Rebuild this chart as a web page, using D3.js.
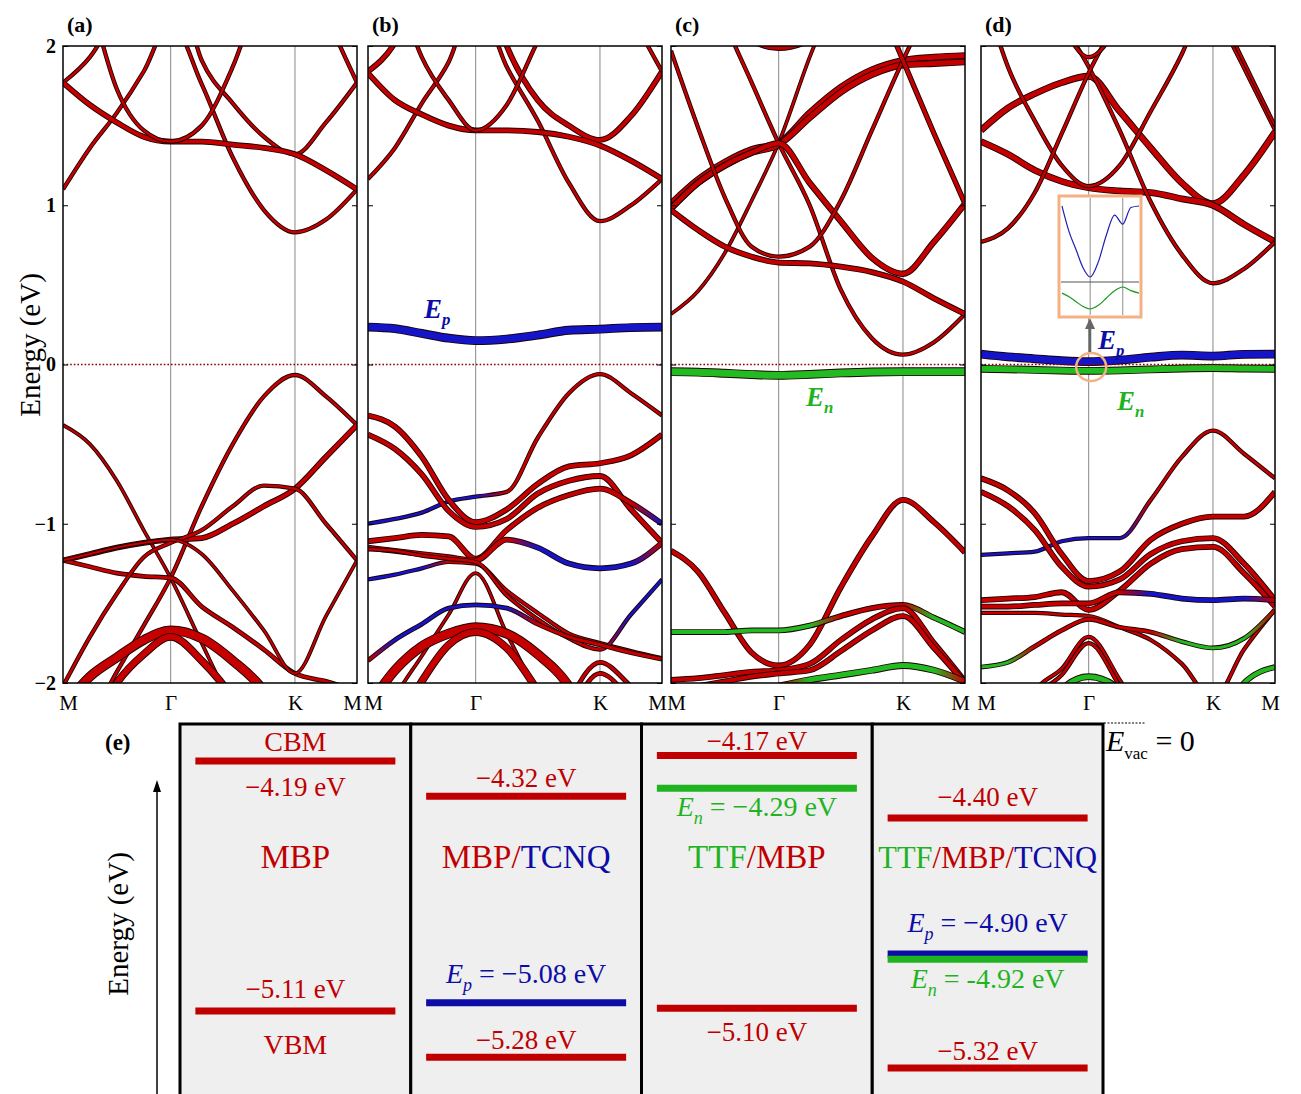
<!DOCTYPE html>
<html lang="en">
<head>
<meta charset="UTF-8">
<title>Band structures and level alignment</title>
<style>
    body {
        margin: 0;
        background: #fff;
    }
    svg text {
        font-family: "Liberation Serif", "Times New Roman", serif;
    }
</style>
</head>
<body>
<script src="https://cdn.jsdelivr.net/npm/d3@7/dist/d3.min.js"></script>
<script>

    // k path M - Γ - K - M, as a fraction of the path length
    var kGrid = [0, 0.0915, 0.183, 0.2745, 0.366, 0.4718, 0.5775, 0.6833, 0.789, 0.8945, 1];
    var kPoints = [0, 0.366, 0.789, 1];
    var kLabels = ['M', 'Γ', 'K', 'M'];
    var energyTicks = [-2, -1, 0, 1, 2];

    // a band: energies (eV) on kGrid, orbital character per k point
    // (m = MBP, t = TCNQ, f = TTF) and projected weight
    function band(e, ch, w) {
        return {e: e, ch: ch, w: w};
    }

    // molecular levels near the gap
    var epB = [0.235, 0.225, 0.195, 0.165, 0.15, 0.16, 0.185, 0.215, 0.222, 0.232, 0.235];
    var enC = [-0.045, -0.048, -0.055, -0.063, -0.068, -0.062, -0.053, -0.047, -0.045, -0.045, -0.045];
    var epD = [0.065, 0.048, 0.036, 0.024, 0.018, 0.028, 0.046, 0.059, 0.053, 0.064, 0.065];
    var enD = [-0.027, -0.030, -0.034, -0.038, -0.040, -0.037, -0.031, -0.025, -0.022, -0.025, -0.027];

    // (a) MBP
    var bandsA = [
        band([1.10, 1.36, 1.58, 1.84, 2.15, 1.76, 1.30, 0.97, 0.83, 0.91, 1.10], 'm', 2.5),
        band([1.77, 1.93, 2.2, 2.45, 2.5, 1.91, 1.64, 1.43, 1.32, 1.52, 1.77], 'm', 2.5),
        band([1.77, 1.63, 1.52, 1.43, 1.40, 1.40, 1.38, 1.36, 1.32, 1.22, 1.10], 'm', 4),
        band([2.9, 2.3, 1.73, 1.47, 1.40, 1.50, 1.87, 2.4, 2.7, 2.2, 1.77], 'm', 2.5),
        band([-2.3, -2.22, -1.93, -1.64, -1.34, -0.89, -0.50, -0.20, -0.066, -0.20, -0.38], 'm', 2.5),
        band([-0.38, -0.50, -0.73, -1.04, -1.34, -1.75, -2.15, -2.5, -2.6, -2.6, -2.6], 'm', 2),
        band([-1.23, -1.19, -1.15, -1.12, -1.10, -1.09, -1.00, -0.89, -0.78, -0.58, -0.38], 'm', 4),
        band([-1.23, -1.27, -1.31, -1.33, -1.34, -1.52, -1.65, -1.79, -1.94, -1.99, -2.05], 'm', 3),
        band([-2.02, -1.71, -1.44, -1.21, -1.12, -1.04, -0.89, -0.76, -0.78, -1.0, -1.23], 'm', 2.5),
        band([-1.23, -1.19, -1.15, -1.12, -1.10, -1.19, -1.42, -1.67, -1.94, -1.58, -1.23], 'm', 2),
        band([-2.15, -1.96, -1.84, -1.73, -1.67, -1.72, -1.86, -2.05, -2.4, -2.6, -2.6], 'm', 8),
        band([-2.6, -2.3, -2.0, -1.82, -1.71, -1.86, -2.1, -2.5, -2.6, -2.6, -2.6], 'm', 6)
    ];

    // (b) MBP/TCNQ
    var bandsB = [
        band([1.165, 1.36, 1.64, 1.90, 2.3, 1.87, 1.53, 1.14, 0.90, 1.0, 1.165], 'm', 2.5),
        band([1.84, 2.02, 2.4, 2.6, 2.6, 2.0, 1.66, 1.50, 1.41, 1.56, 1.84], 'm', 4),
        band([1.83, 1.66, 1.57, 1.50, 1.47, 1.47, 1.46, 1.43, 1.375, 1.28, 1.165], 'm', 4),
        band([2.9, 2.4, 1.93, 1.66, 1.47, 1.63, 2.03, 2.4, 2.6, 2.2, 1.84], 'm', 2.5),
        band(epB, 't', 7),
        band([-1.0, -0.97, -0.93, -0.86, -0.83, -0.80, -0.46, -0.18, -0.06, -0.18, -0.32], 'tttttmmmmmm', 2.5),
        band([-0.32, -0.39, -0.58, -0.85, -0.99, -0.91, -0.75, -0.64, -0.62, -0.57, -0.44], 'm', 4),
        band([-0.44, -0.53, -0.69, -0.92, -1.02, -0.97, -0.81, -0.73, -0.70, -0.91, -1.12], 'm', 4),
        band([-1.11, -1.09, -1.07, -1.08, -1.22, -1.04, -0.90, -0.82, -0.78, -0.87, -1.0], 'mmmmmmmmmmt', 4),
        band([-1.15, -1.17, -1.19, -1.21, -1.23, -1.10, -1.15, -1.25, -1.28, -1.25, -1.12], 'mmmmmmttttm', 4),
        band([-1.35, -1.32, -1.28, -1.24, -1.25, -1.42, -1.56, -1.69, -1.75, -1.80, -1.845], 'tttmmmmmmmm', 2.5),
        band([-1.16, -1.17, -1.20, -1.22, -1.24, -1.45, -1.60, -1.72, -1.79, -1.57, -1.35], 'mmmmmmmmmtt', 2.5),
        band([-2.45, -2.09, -1.83, -1.57, -1.31, -1.69, -2.08, -2.5, -2.6, -2.6, -2.6], 'm', 2),
        band([-1.86, -1.73, -1.63, -1.53, -1.51, -1.53, -1.63, -1.71, -1.76, -1.81, -1.85], 'mtttttmmmmm', 3),
        band([-2.15, -1.92, -1.77, -1.69, -1.65, -1.69, -1.82, -2.02, -2.4, -2.6, -2.6], 'm', 8),
        band([-2.6, -2.3, -1.99, -1.76, -1.68, -1.78, -2.05, -2.4, -2.6, -2.6, -2.6], 'm', 6),
        band([-2.6, -2.6, -2.6, -2.6, -2.6, -2.6, -2.6, -2.12, -1.87, -2.02, -2.2], 'm', 3),
        band([-2.6, -2.6, -2.6, -2.6, -2.6, -2.6, -2.6, -2.2, -1.94, -2.1, -2.3], 'm', 3)
    ];

    // (c) TTF/MBP
    var bandsC = [
        band([0.317, 0.46, 0.70, 1.03, 1.39, 1.93, 2.4, 2.9, 3, 3, 3], 'm', 2),
        band([3, 2.6, 2.15, 1.77, 1.39, 1.0, 0.47, 0.165, 0.062, 0.14, 0.317], 'm', 2.5),
        band([1.01, 1.16, 1.27, 1.35, 1.39, 1.58, 1.74, 1.85, 1.91, 1.93, 1.94], 'm', 5),
        band([0.98, 1.14, 1.25, 1.33, 1.38, 1.55, 1.71, 1.82, 1.88, 1.89, 1.90], 'm', 5),
        band([0.98, 1.14, 1.25, 1.33, 1.39, 1.14, 0.90, 0.67, 0.57, 0.77, 1.01], 'm', 4.5),
        band([0.97, 0.845, 0.74, 0.677, 0.64, 0.635, 0.614, 0.58, 0.52, 0.415, 0.317], 'm', 4),
        band([1.97, 1.49, 1.05, 0.74, 0.677, 0.74, 1.03, 1.47, 1.91, 2.3, 2.6], 'm', 2.5),
        band([3, 3, 3, 3, 3, 3, 2.8, 2.37, 1.91, 1.45, 1.01], 'm', 3.5),
        band([2.6, 2.4, 2.2, 2.04, 1.99, 2.04, 2.2, 2.4, 2.6, 2.6, 2.6], 'm', 5),
        band(enC, 'f', 7),
        band([-1.17, -1.30, -1.56, -1.81, -1.89, -1.76, -1.40, -1.08, -0.85, -0.99, -1.18], 'm', 4),
        band([-1.68, -1.68, -1.68, -1.67, -1.67, -1.64, -1.58, -1.53, -1.51, -1.59, -1.68], 'ffffffmmmff', 4),
        band([-1.98, -1.97, -1.95, -1.93, -1.92, -1.88, -1.73, -1.60, -1.53, -1.75, -1.99], 'm', 4),
        band([-2.05, -2.02, -1.99, -1.96, -1.94, -1.92, -1.80, -1.67, -1.58, -1.78, -2.0], 'm', 4),
        band([-2.3, -2.2, -2.12, -2.06, -2.02, -1.98, -1.95, -1.92, -1.89, -1.92, -1.99], 'mmmmmfffffm', 5)
    ];

    // (d) TTF/MBP/TCNQ
    var bandsD = [
        band([1.47, 1.61, 1.70, 1.77, 1.81, 1.59, 1.36, 1.14, 1.01, 1.19, 1.46], 'm', 5),
        band([1.40, 1.32, 1.22, 1.15, 1.11, 1.09, 1.08, 1.04, 1.0, 0.88, 0.77], 'm', 5),
        band([2.4, 1.87, 1.53, 1.25, 1.12, 1.25, 1.59, 1.95, 2.4, 2.5, 2.5], 'm', 2.5),
        band([3, 2.7, 2.4, 2.15, 1.87, 1.47, 1.02, 0.69, 0.51, 0.60, 0.77], 'm', 2.5),
        band([0.77, 0.855, 1.08, 1.45, 1.83, 2.2, 2.6, 3, 3, 3, 3], 'm', 2.5),
        band([3, 3, 3, 3, 3, 3, 3, 2.6, 2.24, 1.86, 1.47], 'm', 2),
        band([3, 3, 3, 3, 3, 3, 3, 2.65, 2.3, 1.9, 1.50], 'm', 2),
        band([3, 3, 2.6, 2.15, 1.93, 2.15, 2.6, 3, 3, 3, 3], 'm', 2.5),
        band(enD, 'f', 6),
        band(epD, 't', 7),
        band([-1.196, -1.186, -1.175, -1.11, -1.09, -1.09, -0.85, -0.58, -0.415, -0.56, -0.715], 'ttttttmmmmm', 2.5),
        band([-0.715, -0.79, -0.935, -1.19, -1.36, -1.30, -1.10, -1.0, -0.955, -0.955, -0.80], 'm', 4),
        band([-0.80, -0.89, -1.04, -1.27, -1.395, -1.35, -1.19, -1.11, -1.09, -1.25, -1.48], 'm', 4),
        band([-1.48, -1.47, -1.46, -1.43, -1.54, -1.42, -1.25, -1.16, -1.145, -1.31, -1.52], 'm', 4),
        band([-1.52, -1.52, -1.51, -1.50, -1.50, -1.43, -1.44, -1.47, -1.48, -1.47, -1.48], 'mmmmmmttttm', 4),
        band([-1.56, -1.56, -1.56, -1.57, -1.58, -1.65, -1.73, -1.88, -2.1, -1.79, -1.54], 'm', 2.5),
        band([-1.90, -1.87, -1.77, -1.67, -1.60, -1.65, -1.68, -1.74, -1.78, -1.72, -1.54], 'ffmmmmmfffm', 3),
        band([-2.6, -2.4, -2.05, -1.91, -1.71, -1.98, -2.3, -2.6, -2.6, -2.6, -2.6], 'm', 2.5),
        band([-2.6, -2.45, -2.1, -1.95, -1.75, -2.02, -2.35, -2.6, -2.6, -2.6, -2.6], 'm', 2.5),
        band([-2.6, -2.6, -2.3, -2.04, -1.96, -2.04, -2.3, -2.6, -2.6, -2.6, -2.6], 'f', 5),
        band([-2.6, -2.6, -2.6, -2.6, -2.6, -2.6, -2.6, -2.6, -2.3, -2.0, -1.90], 'f', 4)
    ];

    // (e) level alignment, vacuum level = 0
    var systems = ['MBP', 'MBP/TCNQ', 'TTF/MBP', 'TTF/MBP/TCNQ'];
    var cbm = [-4.19, -4.32, -4.17, -4.40];
    var vbm = [-5.11, -5.28, -5.10, -5.32];
    var ep = [null, -5.08, null, -4.90];
    var en = [null, null, -4.29, -4.92];

    var width = 1301,
        height = 1094;

    var charColor = {m: '#c40000', t: '#1414c8', f: '#22bb22'};
    var red = '#c00000', blue = '#0c0ca6', green = '#1fb41f';

    var svg = d3.select('body').append('svg')
        .attr('width', width)
        .attr('height', height);

    var defs = svg.append('defs');

    var panelLeft = [63, 368, 671, 981],
        panelWidth = 294,
        plotTop = 46,
        plotBottom = 683;

    var y = d3.scaleLinear()
        .domain([-2, 2])
        .range([plotBottom, plotTop]);

    function paintFor(b, id, x) {
        if (b.ch.length === 1) {
            return charColor[b.ch];
        }
        var grad = defs.append('linearGradient')
            .attr('id', id)
            .attr('gradientUnits', 'userSpaceOnUse')
            .attr('x1', x(0)).attr('x2', x(1))
            .attr('y1', 0).attr('y2', 0);
        grad.selectAll('stop')
            .data(b.ch.split(''))
            .enter()
            .append('stop')
            .attr('offset', (d, i) => kGrid[i])
            .attr('stop-color', d => charColor[d]);
        return 'url(#' + id + ')';
    }

    function drawPanel(p, bands, tag) {
        var x0 = panelLeft[p];
        var x = d3.scaleLinear()
            .domain([0, 1])
            .range([x0, x0 + panelWidth]);

        var g = svg.append('g');

        defs.append('clipPath')
            .attr('id', 'clip' + p)
            .append('rect')
            .attr('x', x0)
            .attr('y', plotTop)
            .attr('width', panelWidth)
            .attr('height', plotBottom - plotTop);

        g.selectAll('.kline')
            .data([kPoints[1], kPoints[2]])
            .enter()
            .append('line')
            .attr('x1', d => x(d)).attr('x2', d => x(d))
            .attr('y1', plotTop).attr('y2', plotBottom)
            .attr('stroke', '#9c9c9c')
            .attr('stroke-width', 1.2);

        var line = d3.line()
            .x((d, i) => x(kGrid[i]))
            .y(d => y(d))
            .curve(d3.curveMonotoneX);

        var bg = g.append('g').attr('clip-path', 'url(#clip' + p + ')');

        bands.forEach(function (b, j) {
            var paint = paintFor(b, 'grad-' + p + '-' + j, x);
            bg.append('path')
                .attr('d', line(b.e))
                .attr('fill', 'none')
                .attr('stroke', '#1c0000')
                .attr('stroke-width', b.w + 1.8)
                .attr('stroke-linejoin', 'round');
            bg.append('path')
                .attr('d', line(b.e))
                .attr('fill', 'none')
                .attr('stroke', paint)
                .attr('stroke-width', b.w)
                .attr('stroke-linejoin', 'round');
        });

        g.append('line')
            .attr('x1', x0).attr('x2', x0 + panelWidth)
            .attr('y1', y(0)).attr('y2', y(0))
            .attr('stroke', '#8b0000')
            .attr('stroke-width', 1.4)
            .attr('stroke-dasharray', '1.6,2');

        g.append('rect')
            .attr('x', x0).attr('y', plotTop)
            .attr('width', panelWidth).attr('height', plotBottom - plotTop)
            .attr('fill', 'none')
            .attr('stroke', '#000')
            .attr('stroke-width', 1.5);

        var left = g.append('g')
            .attr('transform', 'translate(' + x0 + ',0)')
            .call(d3.axisLeft(y).tickValues(energyTicks).tickSize(-5).tickPadding(7)
                .tickFormat(p === 0 ? d3.format('d') : ''));
        left.select('.domain').remove();
        left.selectAll('text')
            .attr('font-family', '"Liberation Serif", "Times New Roman", serif')
            .attr('font-weight', 'bold')
            .attr('font-size', 20);

        var right = g.append('g')
            .attr('transform', 'translate(' + (x0 + panelWidth) + ',0)')
            .call(d3.axisRight(y).tickValues(energyTicks).tickSize(-5).tickFormat(''));
        right.select('.domain').remove();

        var bottom = g.append('g')
            .attr('transform', 'translate(0,' + plotBottom + ')')
            .call(d3.axisBottom(x).tickValues(kPoints).tickSize(0).tickPadding(12)
                .tickFormat((d, i) => kLabels[i]));
        bottom.select('.domain').remove();
        bottom.selectAll('text')
            .attr('font-family', '"Liberation Serif", "Times New Roman", serif')
            .attr('font-size', 21)
            .attr('fill', '#000')
            .attr('dx', (d, i) => i === 0 ? 5 : (i === kPoints.length - 1 ? -5 : 0));

        g.append('text')
            .attr('x', x0 + 4)
            .attr('y', 32)
            .attr('font-family', '"Liberation Sans", Arial, sans-serif')
            .attr('font-weight', 'bold')
            .attr('font-size', 22)
            .text(tag);

        return x;
    }

    drawPanel(0, bandsA, '(a)');
    drawPanel(1, bandsB, '(b)');
    drawPanel(2, bandsC, '(c)');
    drawPanel(3, bandsD, '(d)');

    svg.append('text')
        .attr('transform', 'translate(30,345) rotate(-90)')
        .attr('text-anchor', 'middle')
        .attr('dominant-baseline', 'central')
        .attr('font-size', 29)
        .text('Energy (eV)');

    function levelLabel(sel, x, yPos, sub, color, size, weight, style) {
        var t = sel.append('text')
            .attr('x', x)
            .attr('y', yPos)
            .attr('fill', color)
            .attr('font-size', size)
            .attr('font-weight', weight || 'normal')
            .attr('font-style', style || 'italic');
        t.append('tspan').text('E');
        t.append('tspan').attr('font-size', size * 0.62).attr('dy', size * 0.25).text(sub);
        return t;
    }

    // molecular level labels in the band panels
    levelLabel(svg, 424, 318, 'p', blue, 27, 'bold');
    levelLabel(svg, 806, 406, 'n', green, 27, 'bold');
    levelLabel(svg, 1098, 349, 'p', blue, 27, 'bold');
    levelLabel(svg, 1117, 410, 'n', green, 27, 'bold');

    // zoom-in of the (d) molecular bands
    var insetX = d3.scaleLinear().domain([0, 1]).range([1062, 1139]);
    var insetYp = d3.scaleLinear().domain([0.018, 0.065]).range([277, 206]);
    var insetYn = d3.scaleLinear().domain([-0.040, -0.022]).range([309, 287]);

    svg.append('ellipse')
        .attr('cx', insetX(kPoints[1]) + 1)
        .attr('cy', 367)
        .attr('rx', 15)
        .attr('ry', 14)
        .attr('fill', 'none')
        .attr('stroke', '#f4b183')
        .attr('stroke-width', 2.5);

    svg.append('line')
        .attr('x1', 1090).attr('x2', 1090)
        .attr('y1', 352).attr('y2', 327)
        .attr('stroke', '#666')
        .attr('stroke-width', 2.5);
    svg.append('path')
        .attr('d', 'M1090,318 L1095,329 L1085,329 Z')
        .attr('fill', '#666');

    var inset = svg.append('g');
    inset.append('rect')
        .attr('x', 1059).attr('y', 196)
        .attr('width', 82).attr('height', 121)
        .attr('fill', '#fff')
        .attr('stroke', '#f4b183')
        .attr('stroke-width', 3);
    inset.selectAll('.ik')
        .data([kPoints[1], kPoints[2]])
        .enter()
        .append('line')
        .attr('x1', d => insetX(d)).attr('x2', d => insetX(d))
        .attr('y1', 198).attr('y2', 315)
        .attr('stroke', '#8c8c8c')
        .attr('stroke-width', 1);
    inset.append('line')
        .attr('x1', 1061).attr('x2', 1139)
        .attr('y1', 282).attr('y2', 282)
        .attr('stroke', '#555')
        .attr('stroke-width', 1);
    inset.append('path')
        .attr('d', d3.line().x((d, i) => insetX(kGrid[i])).y(d => insetYp(d)).curve(d3.curveMonotoneX)(epD))
        .attr('fill', 'none')
        .attr('stroke', '#2020b0')
        .attr('stroke-width', 1.2);
    inset.append('path')
        .attr('d', d3.line().x((d, i) => insetX(kGrid[i])).y(d => insetYn(d)).curve(d3.curveMonotoneX)(enD))
        .attr('fill', 'none')
        .attr('stroke', '#1a9a1a')
        .attr('stroke-width', 1.2);

    // ---- (e) ----
    var col = d3.scaleBand()
        .domain(systems)
        .range([180, 1103]);

    var levelY = d3.scaleLinear()
        .domain([-4.19, -5.11])
        .range([761, 1011]);

    var e = svg.append('g');

    e.selectAll('.box')
        .data(systems)
        .enter()
        .append('rect')
        .attr('x', d => col(d))
        .attr('y', 724)
        .attr('width', col.bandwidth())
        .attr('height', 420)
        .attr('fill', '#efefef')
        .attr('stroke', '#000')
        .attr('stroke-width', 3);

    function bar(i, value, color) {
        var cx = col(systems[i]) + col.bandwidth() / 2;
        e.append('line')
            .attr('x1', cx - 100).attr('x2', cx + 100)
            .attr('y1', levelY(value)).attr('y2', levelY(value))
            .attr('stroke', color)
            .attr('stroke-width', 7);
    }

    function fmt(v) {
        return d3.format('.2f')(v).replace('-', '\u2212') + ' eV';
    }

    function plain(i, yPos, str, color, size) {
        var cx = col(systems[i]) + col.bandwidth() / 2;
        return e.append('text')
            .attr('x', cx)
            .attr('y', yPos)
            .attr('text-anchor', 'middle')
            .attr('fill', color)
            .attr('font-size', size || 27)
            .text(str);
    }

    function named(i, yPos, sub, valueText, color) {
        var cx = col(systems[i]) + col.bandwidth() / 2;
        var t = e.append('text')
            .attr('x', cx)
            .attr('y', yPos)
            .attr('text-anchor', 'middle')
            .attr('fill', color)
            .attr('font-size', 28);
        t.append('tspan').attr('font-style', 'italic').text('E');
        t.append('tspan').attr('font-style', 'italic').attr('font-size', 18).attr('dy', 8).text(sub);
        t.append('tspan').attr('dy', -8).text(' = ' + valueText);
    }

    cbm.forEach((v, i) => bar(i, v, red));
    vbm.forEach((v, i) => bar(i, v, red));
    ep.forEach((v, i) => { if (v !== null) bar(i, v, blue); });
    en.forEach((v, i) => { if (v !== null) bar(i, v, green); });

    plain(0, levelY(cbm[0]) - 10, 'CBM', red, 28);
    plain(0, levelY(cbm[0]) + 35, fmt(cbm[0]), red);
    plain(0, levelY(vbm[0]) - 13, fmt(vbm[0]), red);
    plain(0, levelY(vbm[0]) + 43, 'VBM', red, 28);

    plain(1, levelY(cbm[1]) - 9, fmt(cbm[1]), red);
    named(1, levelY(ep[1]) - 20, 'p', fmt(ep[1]), blue);
    plain(1, levelY(vbm[1]) - 8, fmt(vbm[1]), red);

    plain(2, levelY(cbm[2]) - 6, fmt(cbm[2]), red);
    named(2, levelY(en[2]) + 28, 'n', fmt(en[2]), green);
    plain(2, levelY(vbm[2]) + 33, fmt(vbm[2]), red);

    plain(3, levelY(cbm[3]) - 12, fmt(cbm[3]), red);
    named(3, levelY(ep[3]) - 22, 'p', fmt(ep[3]), blue);
    named(3, levelY(en[3]) + 29, 'n', fmt(en[3]).replace('\u2212', '-'), green);
    plain(3, levelY(vbm[3]) - 8, fmt(vbm[3]), red);

    // system names, coloured by component
    var nameParts = [
        [['MBP', red]],
        [['MBP/', red], ['TCNQ', blue]],
        [['TTF', green], ['/MBP', red]],
        [['TTF', green], ['/MBP/', red], ['TCNQ', blue]]
    ];
    nameParts.forEach(function (parts, i) {
        var t = plain(i, 868, '', red, i === 3 ? 30.5 : 33);
        parts.forEach(function (pt) {
            t.append('tspan').attr('fill', pt[1]).text(pt[0]);
        });
    });

    // vacuum level
    e.append('line')
        .attr('x1', 1104).attr('x2', 1145)
        .attr('y1', 723).attr('y2', 723)
        .attr('stroke', '#000')
        .attr('stroke-width', 1)
        .attr('stroke-dasharray', '2,1.5');
    var vac = e.append('text')
        .attr('x', 1106)
        .attr('y', 751)
        .attr('font-size', 30)
        .attr('fill', '#000');
    vac.append('tspan').attr('font-style', 'italic').text('E');
    vac.append('tspan').attr('font-size', 17).attr('dy', 8).text('vac');
    vac.append('tspan').attr('dy', -8).text(' = 0');

    e.append('text')
        .attr('x', 105)
        .attr('y', 750)
        .attr('font-family', '"Liberation Sans", Arial, sans-serif')
        .attr('font-weight', 'bold')
        .attr('font-size', 23)
        .text('(e)');

    e.append('line')
        .attr('x1', 157).attr('x2', 157)
        .attr('y1', 1100).attr('y2', 790)
        .attr('stroke', '#000')
        .attr('stroke-width', 1.5);
    e.append('path')
        .attr('d', 'M157,780 L161,792 L153,792 Z')
        .attr('fill', '#000');

    e.append('text')
        .attr('transform', 'translate(118,924) rotate(-90)')
        .attr('text-anchor', 'middle')
        .attr('dominant-baseline', 'central')
        .attr('font-size', 29)
        .text('Energy (eV)');
</script>
</body>
</html>
